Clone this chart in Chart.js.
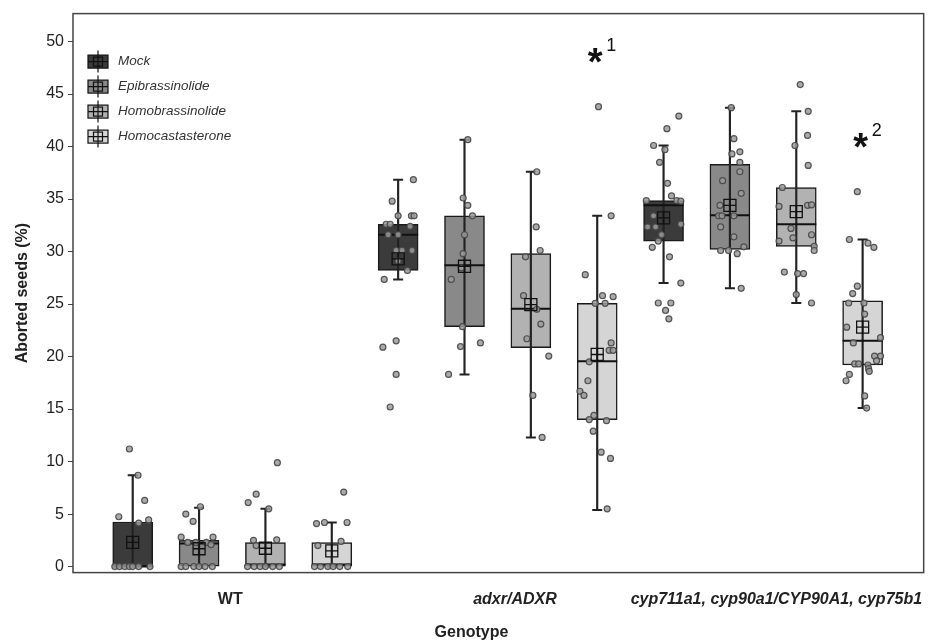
<!DOCTYPE html>
<html lang="en">
<head>
  <meta charset="UTF-8" />
  <title>Aborted seeds by genotype</title>
  <script src="https://cdn.jsdelivr.net/npm/chart.js"></script>
  <style>
    body { margin: 0; background: #fff; }
    #wrap { width: 941px; height: 644px; }
  </style>
</head>
<body>
  <div id="wrap"><canvas id="chart" width="941" height="644"></canvas></div>

  <script>
    const FONT = "'Liberation Sans', Arial, sans-serif";

    const treatments = ['Mock', 'Epibrassinolide', 'Homobrassinolide', 'Homocastasterone'];
    const genotypeLabels = ['WT', 'adxr/ADXR', 'cyp711a1, cyp90a1/CYP90A1, cyp75b1'];
    const genotypeTickPos = [2.47, 6.76, 10.7];
    const yTicks = [0, 5, 10, 15, 20, 25, 30, 35, 40, 45, 50];

    // [treatment][genotype]  (WT, adxr/ADXR, cyp...)
    const q1Values     = [[0, 28.2, 31.0], [0, 22.85, 30.2], [0, 20.85, 30.5], [0, 14.0, 19.2]];
    const q3Values     = [[4.25, 32.6, 34.85], [2.5, 33.4, 38.3], [2.3, 29.8, 36.1], [2.3, 25.07, 25.3]];
    const medianValues = [[0, 31.6, 34.4], [2.2, 28.7, 33.45], [0.2, 24.55, 32.6], [0.2, 19.55, 21.5]];
    const meanValues   = [[2.3, 29.3, 33.2], [1.7, 28.6, 34.4], [1.75, 24.95, 33.8], [1.5, 20.2, 22.8]];
    const whiskerLow   = [[0, 27.35, 27.0], [0, 18.3, 26.5], [0, 12.3, 25.1], [0, 5.4, 15.1]];
    const whiskerHigh  = [[8.7, 36.85, 40.1], [5.6, 40.65, 43.7], [5.5, 37.6, 43.35], [4.2, 33.4, 31.15]];

    // single observations: [value, jitter]
    const mockPoints = [
      [[11.2,-0.05],[8.7,0.08],[6.3,0.18],[4.75,-0.21],[4.45,0.24],[4.15,0.09],
       [0,-0.27],[0,-0.2],[0,-0.12],[0,-0.05],[0,0],[0,0.09],[0,0.26]],
      [[36.85,0.23],[34.8,-0.09],[33.4,0],[33.4,0.2],[33.4,0.24],[32.6,-0.18],[32.6,-0.12],[32.4,0.18],
       [31.6,-0.15],[31.6,0],[30.1,-0.03],[30.1,0.06],[30.1,0.21],[29.1,0],[28.2,0.14],[27.35,-0.21],
       [21.5,-0.03],[20.9,-0.23],[18.3,-0.03],[15.2,-0.12]],
      [[42.9,0.23],[41.7,0.05],[40.1,-0.15],[39.7,0.02],[38.5,-0.06],[36.5,0.06],[35.3,0.12],[34.85,-0.26],
       [34.85,0.2],[34.8,0.26],[33.4,-0.15],[32.35,-0.24],[32.35,-0.12],[32.6,0.26],[31.6,-0.03],[31.0,-0.08],
       [30.4,-0.17],[29.5,0.09],[27.0,0.26],[25.1,-0.08],[25.1,0.11],[24.4,0.03],[23.6,0.08]]
    ];
    const epiPoints = [
      [[5.0,-0.2],[4.3,-0.09],[5.7,0.02],[2.8,-0.27],[2.8,0.21],[2.3,-0.17],[2.3,-0.05],[2.3,0.11],[2.1,0.18],
       [0,-0.27],[0,-0.2],[0,-0.08],[0,0],[0,0.09],[0,0.2]],
      [[40.65,0.05],[35.1,-0.02],[34.4,0.05],[33.4,0.12],[31.6,0],[29.8,-0.02],[28.45,-0.05],[27.35,-0.2],
       [22.85,-0.03],[21.3,0.24],[20.95,-0.06],[18.3,-0.24]],
      [[43.7,0.02],[40.75,0.06],[39.3,0.03],[39.5,0.15],[38.5,0.15],[37.6,0.15],[36.75,-0.11],[35.55,0.17],
       [34.4,-0.15],[33.4,-0.17],[33.4,-0.12],[33.4,0.06],[32.35,-0.14],[31.4,0.06],[30.45,0.21],[30.1,-0.14],
       [30.1,-0.02],[29.8,0.11],[26.5,0.17]]
    ];
    const homobrPoints = [
      [[9.9,0.18],[6.9,-0.14],[6.1,-0.26],[5.5,0.05],[2.5,-0.18],[2.55,0.17],[2.0,-0.14],
       [0,-0.27],[0,-0.17],[0,-0.08],[0,0],[0,0.11],[0,0.21]],
      [[37.6,0.09],[32.35,0.08],[30.1,0.14],[29.5,-0.08],[25.8,-0.11],[24.5,0.09],[23.1,0.15],[21.7,-0.06],
       [20.05,0.27],[16.3,0.03],[12.3,0.17]],
      [[45.9,0.06],[43.35,0.18],[41.06,0.17],[40.1,-0.02],[38.2,0.18],[36.1,-0.21],[34.3,-0.26],[34.4,0.17],
       [34.45,0.23],[32.2,-0.08],[31.3,-0.05],[31.6,0.23],[31.0,-0.26],[30.5,0.27],[30.1,0.27],[28.05,-0.18],
       [27.9,0.02],[27.9,0.11],[25.9,0],[25.1,0.23]]
    ];
    const homocastPoints = [
      [[7.1,0.18],[4.1,-0.23],[4.2,-0.11],[4.2,0.23],[2.4,0.14],[2.0,-0.21],
       [0,-0.26],[0,-0.17],[0,-0.06],[0,0.02],[0,0.12],[0,0.24]],
      [[43.8,0.02],[33.4,0.21],[27.8,-0.18],[25.8,0.08],[25.7,0.24],[25.07,-0.03],[25.07,0.12],[21.3,0.21],
       [20.6,0.18],[20.6,0.24],[19.5,-0.12],[17.7,-0.14],[16.7,-0.26],[16.3,-0.2],[14.4,-0.05],[14.0,-0.12],
       [13.9,0.14],[12.9,-0.06],[10.9,0.06],[10.3,0.2],[5.5,0.15]],
      [[35.7,-0.08],[31.15,-0.2],[30.8,0.08],[30.4,0.17],[26.7,-0.08],[26.0,-0.15],[25.1,-0.21],[25.1,0.02],
       [24.05,0.03],[22.8,-0.24],[21.8,0.27],[21.3,-0.14],[20.05,0.18],[20.05,0.27],[19.6,0.21],[19.3,-0.12],
       [19.3,-0.06],[19.2,0.08],[18.85,0.09],[18.6,0.1],[18.3,-0.2],[17.7,-0.25],[16.25,0.03],[15.1,0.06]]
    ];
    const allPoints = [mockPoints, epiPoints, homobrPoints, homocastPoints];

    // significance marks: [slot, y, label]
    const starMarks = [[8, 48.6, '1'], [12, 40.5, '2']];

    const boxColors = ['#3b3b3b', '#898989', '#b2b2b2', '#d5d5d5'];

    // box slot on the x axis: 1..12
    function slot(t, g) { return g * 4 + t + 1; }

    const datasets = [];
    treatments.forEach((name, t) => {
      datasets.push({
        type: 'bar',
        label: name,
        data: genotypeLabels.map((g, gi) => ({ x: slot(t, gi), y: [q1Values[t][gi], q3Values[t][gi]] })),
        backgroundColor: boxColors[t],
        borderColor: '#1a1a1a',
        borderWidth: 1.5,
        borderSkipped: false,
        grouped: false,
        categoryPercentage: 1,
        barPercentage: 1,
        maxBarThickness: 40,
        order: 6
      });
    });

    const whiskerData = [], capData = [], medianData = [], meanData = [], pointData = [];
    treatments.forEach((name, t) => {
      genotypeLabels.forEach((g, gi) => {
        const x = slot(t, gi);
        whiskerData.push({ x: x, y: [whiskerLow[t][gi], whiskerHigh[t][gi]] });
        capData.push({ x: x, y: whiskerLow[t][gi] }, { x: x, y: whiskerHigh[t][gi] });
        medianData.push({ x: x, y: medianValues[t][gi] });
        meanData.push({ x: x, y: meanValues[t][gi] });
        allPoints[t][gi].forEach(p => pointData.push({ x: x + p[1], y: p[0] }));
      });
    });

    datasets.push({
      type: 'bar', label: 'whisker', data: whiskerData,
      backgroundColor: '#222', grouped: false,
      categoryPercentage: 1, barPercentage: 1, maxBarThickness: 1.5, order: 5
    });
    datasets.push({
      type: 'scatter', label: 'cap', data: capData,
      pointStyle: 'line', radius: 5, borderColor: '#222', borderWidth: 2, order: 4
    });
    datasets.push({
      type: 'scatter', label: 'median', data: medianData,
      pointStyle: 'line', radius: 20, borderColor: '#111', borderWidth: 2, order: 4
    });
    datasets.push({
      type: 'scatter', label: 'points', data: pointData,
      pointStyle: 'circle', radius: 3, backgroundColor: 'rgba(155,155,155,0.85)',
      borderColor: 'rgba(70,70,70,0.9)', borderWidth: 1.2, order: 3
    });
    datasets.push({
      type: 'scatter', label: 'meanBox', data: meanData,
      pointStyle: 'rect', radius: 8.5, backgroundColor: 'rgba(0,0,0,0)',
      borderColor: '#111', borderWidth: 1.3, order: 2
    });
    datasets.push({
      type: 'scatter', label: 'meanCross', data: meanData,
      pointStyle: 'cross', radius: 6, borderColor: '#111', borderWidth: 1.3, order: 1
    });

    const framePlugin = {
      id: 'frame',
      afterDraw(chart) {
        const { ctx, chartArea: a } = chart;
        ctx.save();
        ctx.strokeStyle = '#444';
        ctx.lineWidth = 1.5;
        ctx.strokeRect(a.left, a.top, a.right - a.left, a.bottom - a.top);
        ctx.restore();
      }
    };

    const legendPlugin = {
      id: 'boxLegend',
      afterDraw(chart) {
        const { ctx, chartArea: a } = chart;
        ctx.save();
        treatments.forEach((name, t) => {
          const cx = a.left + 25, cy = a.top + 48 + t * 25;
          ctx.fillStyle = boxColors[t];
          ctx.fillRect(cx - 10, cy - 6.5, 20, 13);
          ctx.strokeStyle = '#111';
          ctx.lineWidth = 1.2;
          ctx.strokeRect(cx - 10, cy - 6.5, 20, 13);
          ctx.beginPath();
          ctx.moveTo(cx, cy - 11); ctx.lineTo(cx, cy + 11);
          ctx.moveTo(cx - 10, cy); ctx.lineTo(cx + 10, cy);
          ctx.stroke();
          ctx.strokeRect(cx - 4.5, cy - 4.5, 9, 9);
          ctx.fillStyle = '#333';
          ctx.font = 'italic 13.5px ' + FONT;
          ctx.textBaseline = 'middle';
          ctx.fillText(name, a.left + 45, cy);
        });
        ctx.restore();
      }
    };

    const starPlugin = {
      id: 'stars',
      afterDraw(chart) {
        const { ctx, scales } = chart;
        ctx.save();
        ctx.fillStyle = '#111';
        starMarks.forEach(m => {
          const x = scales.x.getPixelForValue(m[0]);
          const y = scales.y.getPixelForValue(m[1]);
          ctx.font = 'bold 38px ' + FONT;
          ctx.textAlign = 'center';
          ctx.textBaseline = 'alphabetic';
          ctx.fillText('*', x - 2, y + 19);
          ctx.font = '18px ' + FONT;
          ctx.textBaseline = 'middle';
          ctx.fillText(m[2], x + 14, y - 10);
        });
        ctx.restore();
      }
    };

    new Chart(document.getElementById('chart'), {
      type: 'bar',
      data: { datasets: datasets },
      options: {
        responsive: false,
        animation: false,
        events: [],
        layout: { autoPadding: false, padding: { top: -1, right: 11, left: 13, bottom: 0 } },
        plugins: {
          legend: { display: false },
          tooltip: { enabled: false },
          title: {
            display: true,
            text: 'Genotype',
            position: 'bottom',
            color: '#222',
            font: { family: FONT, size: 16, weight: 'bold' },
            padding: { top: -3, bottom: 2 }
          }
        },
        scales: {
          x: {
            type: 'linear',
            min: 0.1,
            max: 12.92,
            offset: false,
            grid: { display: false, drawTicks: false },
            border: { display: false },
            afterBuildTicks: scale => { scale.ticks = genotypeTickPos.map(v => ({ value: v })); },
            ticks: {
              autoSkip: false,
              maxRotation: 0,
              padding: 17,
              color: '#222',
              callback: (v, i) => genotypeLabels[i],
              font: c => ({ family: FONT, size: 16, weight: 'bold', style: c.index === 0 ? 'normal' : 'italic' })
            }
          },
          y: {
            min: -0.57,
            max: 52.66,
            grid: { drawOnChartArea: false, drawTicks: true, tickLength: 5, color: '#444' },
            border: { display: false },
            afterBuildTicks: scale => { scale.ticks = yTicks.map(v => ({ value: v })); },
            ticks: { color: '#222', padding: 4, font: { family: FONT, size: 16 } },
            title: {
              display: true,
              text: 'Aborted seeds (%)',
              color: '#222',
              font: { family: FONT, size: 16, weight: 'bold' },
              padding: { top: 0, bottom: 10 }
            }
          }
        }
      },
      plugins: [framePlugin, legendPlugin, starPlugin]
    });
  </script>
</body>
</html>
